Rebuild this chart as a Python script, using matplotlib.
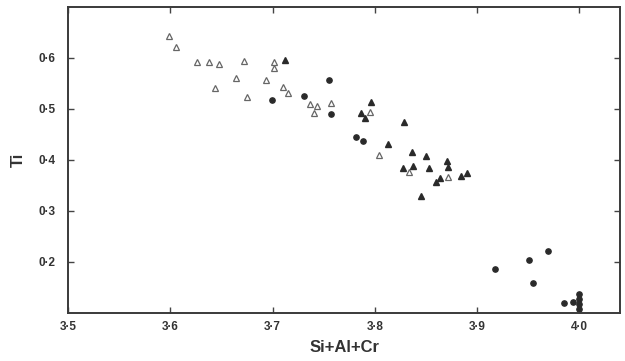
import numpy as np
import matplotlib
matplotlib.use("Agg")
import matplotlib.pyplot as plt
from matplotlib.ticker import FuncFormatter

plt.rcParams['font.family'] = ['Liberation Sans', 'DejaVu Sans']

# open triangles
open_x = [3.599, 3.606, 3.626, 3.638, 3.648, 3.644, 3.672, 3.664, 3.675, 3.694,
          3.701, 3.701, 3.710, 3.715, 3.737, 3.744, 3.741, 3.757, 3.795, 3.804,
          3.834, 3.872]
open_y = [0.643, 0.622, 0.592, 0.592, 0.588, 0.541, 0.594, 0.561, 0.524, 0.557,
          0.592, 0.580, 0.543, 0.531, 0.509, 0.506, 0.492, 0.512, 0.494, 0.410,
          0.376, 0.367]

# filled triangles
tri_x = [3.712, 3.796, 3.787, 3.790, 3.829, 3.813, 3.836, 3.850, 3.828, 3.837,
         3.853, 3.871, 3.872, 3.864, 3.860, 3.884, 3.890, 3.845]
tri_y = [0.596, 0.514, 0.492, 0.482, 0.475, 0.431, 0.416, 0.408, 0.384, 0.388,
         0.384, 0.398, 0.386, 0.365, 0.357, 0.369, 0.375, 0.329]

# filled circles
dot_x = [3.699, 3.755, 3.731, 3.757, 3.782, 3.789, 3.918, 3.951, 3.970, 3.955,
         3.985, 3.994, 4.000, 4.000, 4.000, 4.000]
dot_y = [0.518, 0.557, 0.525, 0.490, 0.445, 0.437, 0.186, 0.204, 0.222, 0.159,
         0.120, 0.122, 0.138, 0.128, 0.118, 0.108]

xticks = [3.5, 3.6, 3.7, 3.8, 3.9, 4.0]
yticks = [0.2, 0.3, 0.4, 0.5, 0.6]

fig = plt.figure(figsize=(6.25, 3.61), dpi=100)
ax = fig.add_axes([0.109, 0.133, 0.883, 0.848])

ink = '#2a2a2a'
ax.plot(open_x, open_y, linestyle='none', marker='^', markersize=5,
        markerfacecolor='white', markeredgecolor='#666666', markeredgewidth=0.9)
ax.plot(tri_x, tri_y, linestyle='none', marker='^', markersize=5,
        markerfacecolor=ink, markeredgecolor=ink)
ax.plot(dot_x, dot_y, linestyle='none', marker='o', markersize=3.8,
        markerfacecolor=ink, markeredgecolor=ink)

ax.set_xlim(3.5, 4.04)
ax.set_ylim(0.1, 0.7)
ax.set_xticks(xticks)
ax.set_yticks(yticks)
dotfmt = FuncFormatter(lambda v, p: ('%.1f' % v).replace('.', '\u00b7'))
ax.xaxis.set_major_formatter(dotfmt)
ax.yaxis.set_major_formatter(dotfmt)

ax.tick_params(direction='in', length=4, width=1, color='#444444',
               top=True, right=True, labelsize=8.5, labelcolor='#333333')
ax.tick_params(axis='x', pad=6)
ax.tick_params(axis='y', pad=9)
for lab in ax.get_xticklabels() + ax.get_yticklabels():
    lab.set_fontweight('bold')

for sp in ax.spines.values():
    sp.set_linewidth(1.4)
    sp.set_color('#3a3a3a')

ax.set_xlabel('Si+Al+Cr', fontsize=12, fontweight='bold', color='#333333', labelpad=5)
ax.set_ylabel('Ti', fontsize=12, fontweight='bold', color='#333333', labelpad=9)

fig.savefig('out.png', dpi=100)
